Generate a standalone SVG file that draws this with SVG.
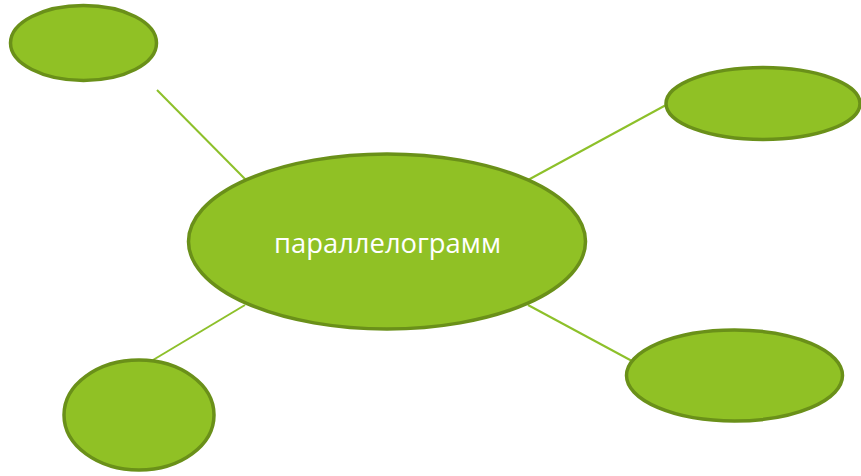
<svg xmlns="http://www.w3.org/2000/svg" width="861" height="476" viewBox="0 0 861 476">
<style>
.n{fill:#90C125;stroke:#6A9019;stroke-width:3.5}
.c{stroke:#8DC02A;stroke-width:2;fill:none}
.t{font-family:"Open Sans","Liberation Sans",sans-serif;font-size:27px;fill:#ffffff;text-anchor:middle}
</style>
<rect width="861" height="476" fill="#ffffff"/>
<g id="connectors">
<line class="c" x1="157" y1="90" x2="246" y2="180"/>
<line class="c" x1="528" y1="180" x2="666" y2="105"/>
<line class="c" x1="245" y1="305" x2="153" y2="360"/>
<line class="c" x1="528" y1="305" x2="632" y2="361"/>
</g>
<g id="center"><ellipse class="n" cx="387" cy="241.5" rx="198.5" ry="87.5"/><text class="t" x="387.5" y="252.5" textLength="227" lengthAdjust="spacingAndGlyphs">параллелограмм</text></g>
<g id="topleft"><ellipse class="n" cx="83.5" cy="43" rx="73" ry="37.5"/></g>
<g id="topright"><ellipse class="n" cx="763" cy="103.5" rx="97" ry="36"/></g>
<g id="bottomright"><ellipse class="n" cx="734.5" cy="375.5" rx="108" ry="45.5"/></g>
<g id="bottomleft"><ellipse class="n" cx="139" cy="415" rx="75" ry="55"/></g>
</svg>
